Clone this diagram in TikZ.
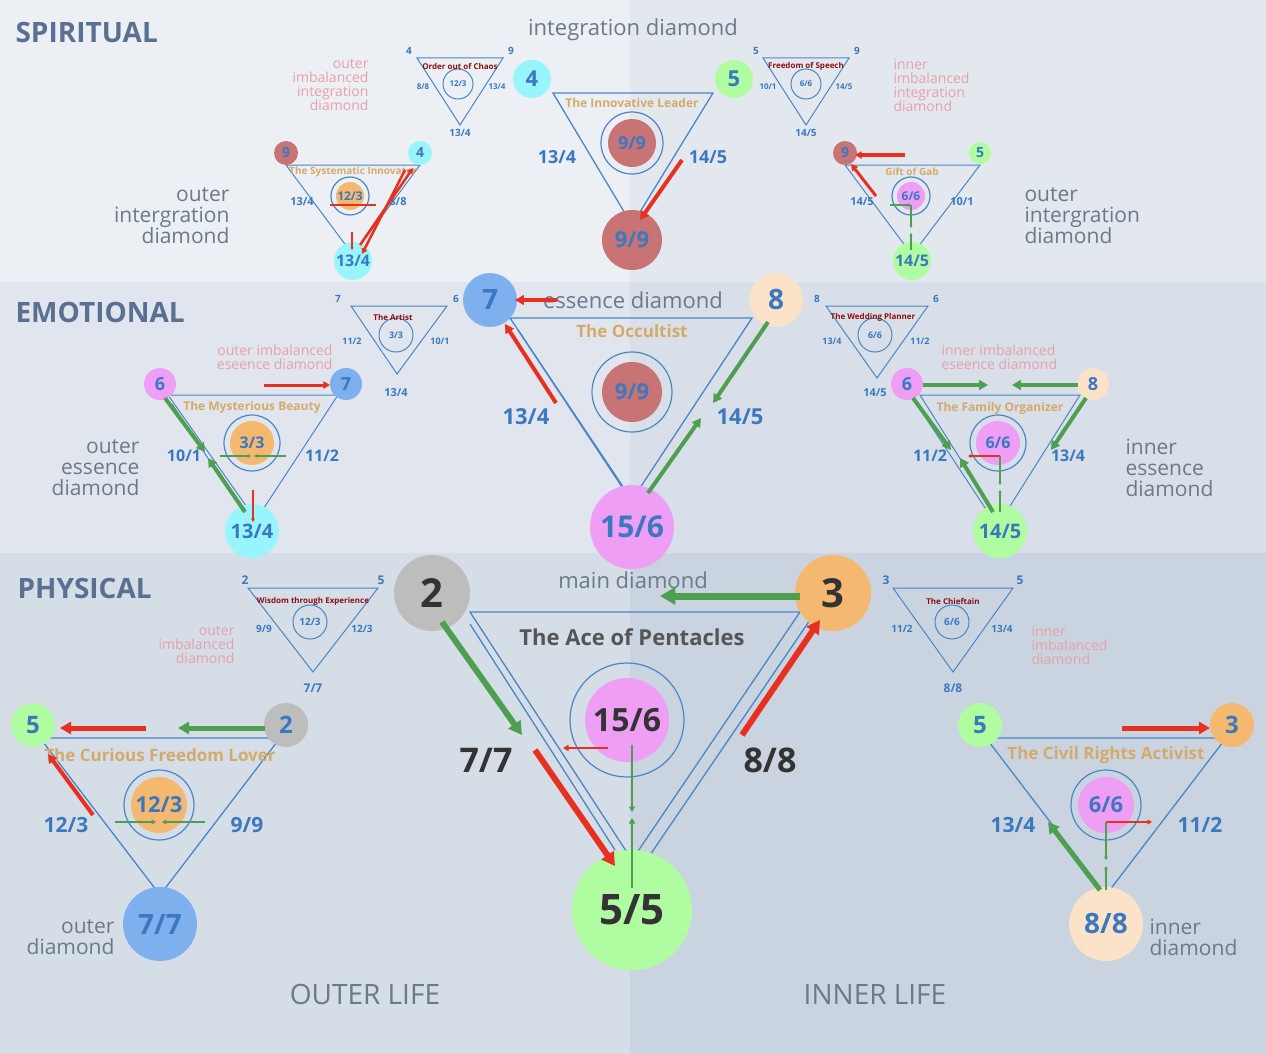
\documentclass[tikz,border=0pt]{standalone}
\usepackage{fontspec}
\setmainfont{Open Sans}
\usetikzlibrary{arrows.meta}
\definecolor{nb}{HTML}{3A78C0}
\definecolor{ln}{HTML}{4A86C5}
\definecolor{ccy}{HTML}{99F5FC}
\definecolor{cgr}{HTML}{B0FCA0}
\definecolor{crb}{HTML}{C87474}
\definecolor{cpk}{HTML}{EE9EF5}
\definecolor{cor}{HTML}{F4B870}
\definecolor{cbl}{HTML}{7FB0EE}
\definecolor{cpe}{HTML}{FAE3C8}
\definecolor{cgy}{HTML}{BDBDBD}
\definecolor{gold}{HTML}{D4AA6A}
\definecolor{dred}{HTML}{8B1010}
\definecolor{pnk}{HTML}{E8A0A8}
\definecolor{gtx}{HTML}{6A7A8A}
\definecolor{hdr}{HTML}{5A7090}
\definecolor{ared}{HTML}{E83020}
\definecolor{agr}{HTML}{4EA050}
\definecolor{dk}{HTML}{333333}
\definecolor{dk5}{HTML}{555555}
\definecolor{bg1}{HTML}{ECEFF4}
\definecolor{bg2}{HTML}{E3E8EF}
\definecolor{bg3}{HTML}{E1E6EE}
\definecolor{bg4}{HTML}{D8DFE8}
\definecolor{bg5}{HTML}{D5DDE7}
\definecolor{bg6}{HTML}{C9D4E0}
\newcommand\fs[1]{\fontsize{#1}{#1}\selectfont}
\newcommand\cn[6]{\node[circle,fill=#4,minimum size=#3*2pt,inner sep=0pt,text=nb,font=\bfseries\fs{#6}] (#1) at (#2) {#5};}
\newcommand\lb[4]{\node[text=nb,font=\bfseries\fs{#3}] (#1) at (#2) {#4};}
\newcommand\ring[4]{\draw[ln,line width=1.2pt] (#1) circle (#2pt); \fill[#3] (#1) circle (#4pt);}
\tikzset{
 tri/.style={draw=ln,line width=1.3pt,line join=miter},
 ra/.style={draw=ared,line width=#1,-{Triangle[length=2.2*#1,width=2.4*#1]}},
 ga/.style={draw=agr,line width=#1,-{Triangle[length=2.2*#1,width=2.4*#1]}},
 ra/.default=4pt, ga/.default=4pt,
 pk/.style={text=pnk,font=\fs{14},align=right},
 gt/.style={text=gtx,font=\fs{21},align=right},
 ttl/.style={text=gold,font=\bfseries\fs{#1}},
 st/.style={text=dred,font=\bfseries\fs{8}},
}
\begin{document}
\begin{tikzpicture}[x=1pt,y=-1pt]
\useasboundingbox (0,0) rectangle (1266,1054);
\fill[bg1] (0,0) rectangle (630,282);
\fill[bg2] (630,0) rectangle (1266,282);
\fill[bg3] (0,282) rectangle (630,553);
\fill[bg4] (630,282) rectangle (1266,553);
\fill[bg5] (0,553) rectangle (630,1054);
\fill[bg6] (630,553) rectangle (1266,1054);
% headers
\node[anchor=west,text=hdr,font=\bfseries\fs{28}] (h1) at (12,33) {SPIRITUAL};
\node[anchor=west,text=hdr,font=\bfseries\fs{28}] (h2) at (12,312) {EMOTIONAL};
\node[anchor=west,text=hdr,font=\bfseries\fs{28}] (h3) at (14,588) {PHYSICAL};
\node[text=gtx,font=\fs{22}] (d1) at (633,30) {integration diamond};
\node[text=gtx,font=\fs{22}] (d2) at (633,300) {essence diamond};
\node[text=gtx,font=\fs{22}] (d3) at (633,580) {main diamond};
\node[text=gtx,font=\fs{28}] (ol) at (365,994) {OUTER LIFE};
\node[text=gtx,font=\fs{28}] (il) at (875,994) {INNER LIFE};

%% ===== SPIRITUAL main
\draw[tri] (553,93) -- (713,93) -- (632,225) -- cycle;
\cn{s4}{532,79}{19}{ccy}{4}{22}
\cn{s5}{734,79}{19}{cgr}{5}{22}
\cn{s99}{632,240}{30}{crb}{9/9}{22}
\node[ttl=12] (st1) at (632,103) {The Innovative Leader};
\ring{632,143}{31}{crb}{24}
\lb{si}{632,143}{18}{9/9}
\lb{sl}{557,157}{18}{13/4}
\lb{sr}{708,157}{18}{14/5}
\draw[ra] (682,160) -- (640,220);
% small
\draw[ln,line width=1pt] (417,58) -- (503,58) -- (460,125) -- cycle;
\draw[ln,line width=1pt] (458,84) circle (15pt);
\node[st] (o1) at (460,66) {Order out of Chaos};
\lb{o2}{458,84}{8}{12/3}\lb{o3}{409,51}{10}{4}\lb{o4}{511,51}{10}{9}
\lb{o5}{423,87}{8}{8/8}\lb{o6}{497,87}{8}{13/4}\lb{o7}{460,133}{10}{13/4}
\draw[ln,line width=1pt] (763,58) -- (849,58) -- (806,125) -- cycle;
\draw[ln,line width=1pt] (806,84) circle (15pt);
\node[st] (f1) at (806,66) {Freedom of Speech};
\lb{f2}{806,84}{8}{6/6}\lb{f3}{756,51}{10}{5}\lb{f4}{857,51}{10}{9}
\lb{f5}{768,87}{8}{10/1}\lb{f6}{844,87}{8}{14/5}\lb{f7}{806,133}{10}{14/5}
\node[pk,anchor=east] (p1) at (372,85) {outer\\imbalanced\\integration\\diamond};
\node[pk,anchor=west,align=left] (p2) at (890,85) {inner\\imbalanced\\integration\\diamond};
% outer integration
\draw[tri,line width=1pt] (286,165) -- (420,165) -- (353,255) -- cycle;
\cn{a9}{286,153}{12}{crb}{9}{14}
\cn{a4}{420,153}{12}{ccy}{4}{14}
\cn{a13}{353,261}{19}{ccy}{13/4}{16}
\node[ttl=10] (at) at (353,172) {The Systematic Innovator};
\ring{350,196}{19}{cor}{14}
\lb{ai}{350,196}{12}{12/3}
\lb{al}{302,202}{11}{13/4}\lb{ar}{398,202}{11}{8/8}
\draw[ra=2.5pt] (360,245) -- (413,168);
\draw[ra=2.5pt] (405,170) -- (362,254);
\draw[ared,line width=1.5pt] (330,205) -- (376,205);
\draw[ra=1.2pt] (352,232) -- (352,250);
\node[gt,anchor=east] (g1) at (233,216) {outer\\intergration\\diamond};
% inner integration
\draw[tri,line width=1pt] (845,165) -- (980,165) -- (912,255) -- cycle;
\cn{b9}{845,153}{12}{crb}{9}{14}
\cn{b5}{980,153}{11}{cgr}{5}{14}
\cn{b14}{912,261}{19}{cgr}{14/5}{16}
\node[ttl=10] (bt) at (912,172) {Gift of Gab};
\ring{911,196}{19}{cpk}{14}
\lb{bi}{911,196}{12}{6/6}
\lb{bl}{862,202}{11}{14/5}\lb{br}{962,202}{11}{10/1}
\draw[ra=3pt] (905,155) -- (855,155);
\draw[ra=3pt] (876,196) -- (851,164);
\draw[ga=1.5pt] (890,205) -- (911,205);
\draw[ga=1.2pt] (911,205) -- (911,228);
\draw[ga=1.2pt] (911,250) -- (911,233);
\node[gt,anchor=west,align=left] (g2) at (1021,216) {outer\\intergration\\diamond};

%% ===== EMOTIONAL main
\draw[tri] (510,318) -- (752,318) -- (632,500) -- cycle;
\draw[ln,line width=1.3pt] (518,330) -- (624,490);
\cn{e7}{490,300}{27}{cbl}{7}{28}
\cn{e8}{776,300}{27}{cpe}{8}{28}
\cn{e15}{632,527}{42}{cpk}{15/6}{30}
\node[ttl=17] (et) at (632,331) {The Occultist};
\ring{632,392}{40}{crb}{30}
\lb{ei}{632,392}{22}{9/9}
\lb{el}{526,417}{22}{13/4}\lb{er}{740,417}{22}{14/5}
\draw[ra] (557,300) -- (515,300);
\draw[ra] (556,403) -- (505,324);
\draw[ga] (768,322) -- (713,403);
\draw[ga] (648,493) -- (701,418);
% small
\draw[ln,line width=1pt] (351,306) -- (447,306) -- (397,374) -- cycle;
\draw[ln,line width=1pt] (396,335) circle (17pt);
\node[st] (ar1) at (393,317) {The Artist};
\lb{ar2}{396,335}{9}{3/3}\lb{ar3}{338,299}{10}{7}\lb{ar4}{456,299}{10}{6}
\lb{ar5}{352,341}{9}{11/2}\lb{ar6}{440,341}{9}{10/1}\lb{ar7}{396,393}{11}{13/4}
\draw[ln,line width=1pt] (826,306) -- (928,306) -- (877,378) -- cycle;
\draw[ln,line width=1pt] (875,335) circle (17pt);
\node[st] (w1) at (873,317) {The Wedding Planner};
\lb{w2}{875,335}{9}{6/6}\lb{w3}{817,299}{10}{8}\lb{w4}{936,299}{10}{6}
\lb{w5}{832,341}{9}{13/4}\lb{w6}{920,341}{9}{11/2}\lb{w7}{875,393}{11}{14/5}
\node[pk,anchor=east] (p3) at (336,357) {outer imbalanced\\eseence diamond};
\node[pk,anchor=west,align=left] (p4) at (938,357) {inner imbalanced\\eseence diamond};
% outer essence
\draw[tri,line width=1pt] (168,395) -- (338,395) -- (256,520) -- cycle;
\draw[ln,line width=1pt] (172,404) -- (247,517);
\cn{c6}{160,384}{16}{cpk}{6}{18}
\cn{c7}{346,384}{16}{cbl}{7}{18}
\cn{c13}{252,531}{27}{ccy}{13/4}{20}
\node[ttl=12] (ct) at (252,407) {The Mysterious Beauty};
\ring{252,443}{28}{cor}{22}
\lb{ci}{252,443}{16}{3/3}
\lb{cl}{184,456}{16}{10/1}\lb{cr}{322,456}{16}{11/2}
\draw[ra=3pt] (264,385) -- (330,385);
\draw[ga=4pt] (165,398) -- (205,452);
\draw[ga=4pt] (245,512) -- (208,458);
\draw[ga=1.5pt] (220,456) -- (251,456);
\draw[ga=1.5pt] (286,456) -- (254,456);
\draw[ra=1.5pt] (253,490) -- (253,522);
\node[gt,anchor=east] (g3) at (143,468) {outer\\essence\\diamond};
% inner essence
\draw[tri,line width=1pt] (920,395) -- (1080,395) -- (1000,522) -- cycle;
\draw[ln,line width=1pt] (918,406) -- (993,520);
\cn{k6}{907,384}{16}{cpk}{6}{18}
\cn{k8}{1093,384}{16}{cpe}{8}{18}
\cn{k14}{1000,531}{27}{cgr}{14/5}{20}
\node[ttl=12] (kt) at (1000,408) {The Family Organizer};
\ring{998,443}{28}{cpk}{22}
\lb{ki}{998,443}{16}{6/6}
\lb{kl}{930,456}{16}{11/2}\lb{kr}{1068,456}{16}{13/4}
\draw[ga] (923,385) -- (988,385);
\draw[ga] (1078,385) -- (1012,385);
\draw[ga] (913,398) -- (951,450);
\draw[ga] (993,512) -- (960,458);
\draw[ga] (1086,398) -- (1051,450);
\draw[ra=1.5pt] (1000,456) -- (968,456);
\draw[ga=1.2pt] (1000,456) -- (1000,485);
\draw[ga=1.2pt] (1000,512) -- (1000,490);
\node[gt,anchor=west,align=left] (g4) at (1122,468) {inner\\essence\\diamond};

%% ===== PHYSICAL main
\draw[tri] (470,612) -- (800,612) -- (632,860) -- cycle;
\draw[ln,line width=1.3pt] (470,624) -- (615,850);
\draw[ln,line width=1.3pt] (810,620) -- (650,855);
\cn{m2}{432,593}{38}{cgy}{\color{dk}2}{40}
\cn{m3}{833,593}{38}{cor}{\color{dk}3}{40}
\cn{m55}{632,910}{60}{cgr}{\color{dk}5/5}{42}
\node[text=dk5,font=\bfseries\fs{22}] (mt) at (632,637) {The Ace of Pentacles};
\ring{627,720}{57}{cpk}{42}
\node[text=dk,font=\bfseries\fs{32}] (mi) at (627,720) {15/6};
\node[text=dk,font=\bfseries\fs{34}] (ml) at (486,760) {7/7};
\node[text=dk,font=\bfseries\fs{34}] (mr) at (770,760) {8/8};
\draw[ga=7pt] (800,596) -- (660,596);
\draw[ga=6pt] (442,622) -- (522,735);
\draw[ra=6pt] (535,750) -- (615,866);
\draw[ra=6pt] (742,735) -- (820,620);
\draw[ra=2.5pt] (608,748) -- (563,748);
\draw[ga=2.5pt] (632,745) -- (632,812);
\draw[ga=2.5pt] (632,888) -- (632,818);
% small
\draw[ln,line width=1pt] (248,588) -- (378,588) -- (313,672) -- cycle;
\draw[ln,line width=1pt] (310,622) circle (17pt);
\node[st] (x1) at (313,601) {Wisdom through Experience};
\lb{x2}{310,622}{10}{12/3}\lb{x3}{245,580}{12}{2}\lb{x4}{381,580}{12}{5}
\lb{x5}{264,629}{10}{9/9}\lb{x6}{362,629}{10}{12/3}\lb{x7}{313,688}{12}{7/7}
\draw[ln,line width=1pt] (893,588) -- (1013,588) -- (953,672) -- cycle;
\draw[ln,line width=1pt] (952,622) circle (17pt);
\node[st] (y1) at (953,601) {The Chieftain};
\lb{y2}{952,622}{10}{6/6}\lb{y3}{886,580}{12}{3}\lb{y4}{1020,580}{12}{5}
\lb{y5}{902,629}{10}{11/2}\lb{y6}{1002,629}{10}{13/4}\lb{y7}{953,688}{12}{8/8}
\node[pk,anchor=east] (p5) at (238,645) {outer\\imbalanced\\diamond};
\node[pk,anchor=west,align=left] (p6) at (1028,645) {inner\\imbalanced\\diamond};
% outer
\draw[tri] (40,738) -- (280,738) -- (160,895) -- cycle;
\cn{u5}{33,725}{22}{cgr}{5}{24}
\cn{u2}{286,725}{22}{cgy}{2}{24}
\cn{u77}{160,924}{37}{cbl}{7/7}{28}
\node[ttl=17] (ut) at (160,755) {The Curious Freedom Lover};
\ring{159,805}{35}{cor}{28}
\lb{ui}{159,805}{22}{12/3}
\lb{ul}{66,825}{21}{12/3}\lb{ur}{247,825}{21}{9/9}
\draw[ra=5pt] (146,728) -- (60,728);
\draw[ga=5pt] (265,728) -- (178,728);
\draw[ra=4pt] (93,815) -- (48,754);
\draw[ga=2pt] (115,822) -- (156,822);
\draw[ga=2pt] (205,822) -- (162,822);
\node[gt,anchor=east] (g5) at (118,937) {outer\\diamond};
% inner
\draw[tri] (986,738) -- (1226,738) -- (1106,895) -- cycle;
\cn{v5}{980,725}{22}{cgr}{5}{24}
\cn{v3}{1232,725}{22}{cor}{3}{24}
\cn{v88}{1106,924}{37}{cpe}{8/8}{28}
\node[ttl=17] (vt) at (1106,755) {The Civil Rights Activist};
\ring{1106,805}{35}{cpk}{28}
\lb{vi}{1106,805}{22}{6/6}
\lb{vl}{1013,825}{21}{13/4}\lb{vr}{1200,825}{21}{11/2}
\draw[ra=5pt] (1122,728) -- (1210,728);
\draw[ga=5pt] (1100,890) -- (1048,822);
\draw[ra=2pt] (1106,822) -- (1152,822);
\draw[ga=1.5pt] (1106,822) -- (1106,860);
\draw[ga=1.5pt] (1106,890) -- (1106,866);
\node[gt,anchor=west,align=left] (g6) at (1146,937) {inner\\diamond};
\end{tikzpicture}
\end{document}
